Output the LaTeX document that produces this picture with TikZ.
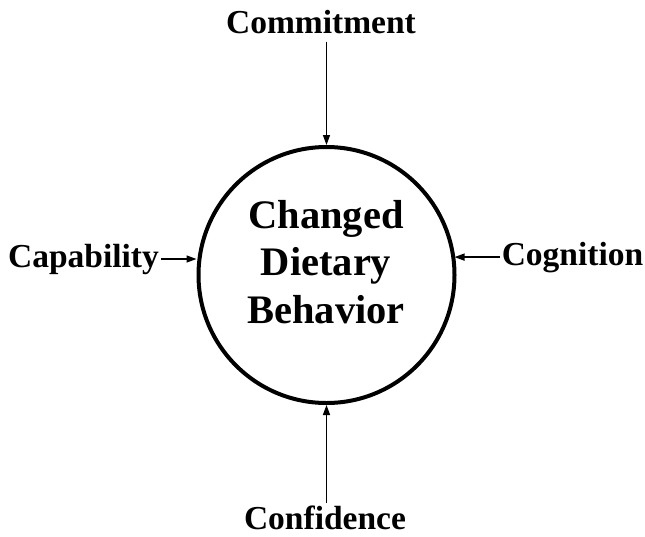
\documentclass[tikz,border=0pt]{standalone}
\usepackage{fontspec}
\setmainfont{Liberation Serif}
\usetikzlibrary{arrows.meta}

\begin{document}
\begin{tikzpicture}[x=1pt, y=-1pt,
    factor/.style={font=\fontsize{33.5}{40}\selectfont\bfseries, inner sep=2pt, anchor=base},
    outcome/.style={font=\fontsize{40.5}{47.5}\selectfont\bfseries, align=center},
    feed/.style={-{Triangle[length=10pt,width=7pt]}, line width=1.4pt}]
    \useasboundingbox (0,0) rectangle (645,536);

    % central behaviour circle
    \node[draw, circle, line width=4pt, minimum size=256pt] (dcb) at (326.5,275) {};
    \node[outcome] (dcbtext) at (326,262) {Changed\\Dietary\\Behavior};

    % the four influencing factors
    \node[factor] (commit) at (321,33) {Commitment};
    \node[factor] (capab) at (83.5,267) {Capability};
    \node[factor] (cogn) at (572.5,265) {Cognition};
    \node[factor] (confid) at (325,529) {Confidence};

    \draw[feed, shorten <=6pt] (dcb.north |- commit.south) -- (dcb.north);
    \draw[feed] (capab.east) -- (capab.east -| dcb.west);
    \draw[feed] (cogn.west) -- ([xshift=-2pt]cogn.west -| dcb.east);
    \draw[feed] (dcb.south |- confid.north) -- (dcb.south);
\end{tikzpicture}
\end{document}
